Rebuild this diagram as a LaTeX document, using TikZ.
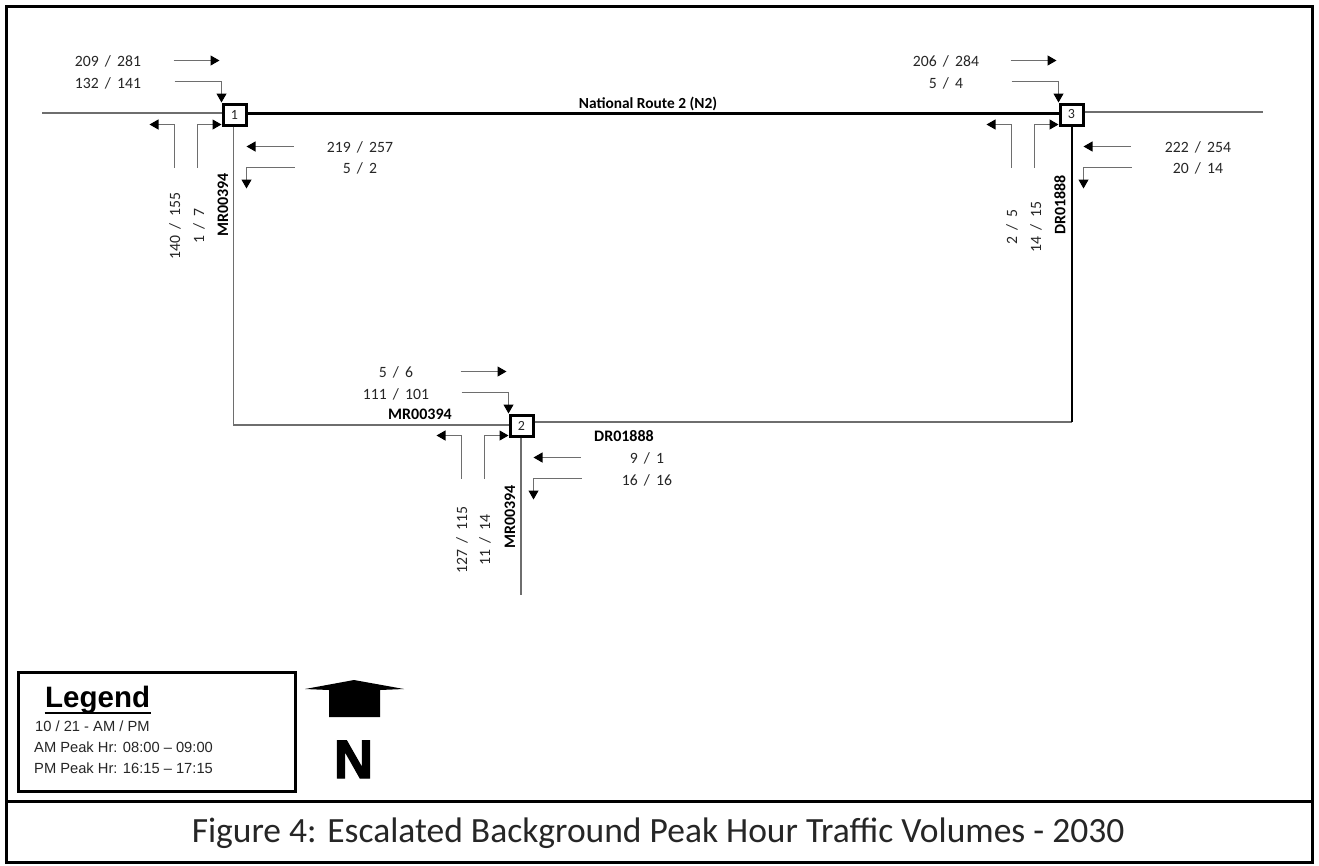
\documentclass[tikz,border=0pt]{standalone}
\usepackage{fontspec}
\setmainfont{Carlito}
\newfontfamily\arialf{Liberation Sans}
\newfontfamily\heavyf[FakeBold=2.5]{Liberation Sans Bold}
\usetikzlibrary{arrows.meta,calc}
\definecolor{thinline}{HTML}{6E6E6E}
\definecolor{txt}{HTML}{262626}
\tikzset{
  frame/.style={draw=black,line width=3pt},
  road/.style={draw=thinline,line width=1.2pt},
  mainroad/.style={draw=black,line width=2.2pt},
  flow/.style={draw=thinline,line width=1.1pt,-{Triangle[width=10pt,length=9pt,fill=black,color=black]}},
  junction/.style={draw=black,fill=white,line width=3pt,minimum width=23pt,minimum height=21pt,inner sep=0pt,font=\fontsize{14}{14}\selectfont,text=txt},
  vol/.style={inner sep=0pt,text=txt,font=\fontsize{15.7}{16}\selectfont},
  rvol/.style={vol,rotate=90},
  rname/.style={inner sep=0pt,text=black,font=\fontsize{16}{16}\selectfont\bfseries},
  rrname/.style={rname,rotate=90},
  legtext/.style={inner sep=0pt,anchor=west,text=txt,font=\arialf\fontsize{14.7}{15}\selectfont},
}
\newcommand{\vs}{\ \,/\ \,}
\begin{document}
\begin{tikzpicture}[x=1pt,y=-1pt]
\useasboundingbox (0,0) rectangle (1319,865);
\fill[white] (0,0) rectangle (1319,865);
% frames
\draw[frame] (6,6) rectangle (1312,862);
\draw[frame] (6,801) -- (1312,801);
% junctions
\node[junction] (j1) at (234.5,114.5) {1};
\node[junction] (j2) at (521.5,425.5) {2};
\node[junction] (j3) at (1071.5,114.5) {3};
\coordinate (w1) at (42,113);
\coordinate (e3) at (1263,112);
\coordinate (c1) at (233.5,425);
\coordinate (c3) at (1072,422);
\coordinate (s2) at (521,595);
% roads
\draw[road] (w1) -- (j1.west |- w1);
\draw[mainroad] (j1.east |- 0,113.5) -- (j3.west |- 0,113.5);
\draw[road] (j3.east |- e3) -- (e3);
\draw[road] (j1.south -| c1) -- (c1) -- (j2.west |- c1);
\draw[road] (j2.east |- c3) -- (c3);
\draw[mainroad,line width=1.8pt] (j3.south -| c3) -- (c3);
\draw[road] (j2.south -| s2) -- (s2);
% turning flows
\foreach \j in {j1,j2,j3}{
  \draw[flow] ($(\j)+(-61,-54)$) -- ($(\j)+(-15,-54)$);
  \draw[flow] ($(\j)+(-60,-33)$) -| ($(\j)+(-13,-12)$);
  \draw[flow] ($(\j)+(-60,53)$) |- ($(\j)+(-85,10)$);
  \draw[flow] ($(\j)+(-37,53)$) |- ($(\j)+(-13,10)$);
  \draw[flow] ($(\j)+(59,32)$) -- ($(\j)+(12,32)$);
  \draw[flow] ($(\j)+(60,53)$) -| ($(\j)+(12,74)$);
}
% volumes, junction 1
\node[vol] (a1) at (108,61) {209\vs 281};
\node[vol] (a2) at (108,83) {132\vs 141};
\node[vol] (a3) at (360,147) {219\vs 257};
\node[vol] (a4) at (360,168) {5\vs 2};
\node[rvol] (a5) at (175,226) {140\vs 155};
\node[rvol] (a6) at (199,226) {1\vs 7};
\node[rrname] (n1) at (223,205) {MR00394};
% volumes, junction 2
\node[vol] (b1) at (396,372) {5\vs 6};
\node[vol] (b2) at (396,394) {111\vs 101};
\node[rname] (n2) at (420,414) {MR00394};
\node[rname] (n3) at (624,436) {DR01888};
\node[vol] (b3) at (647,458) {9\vs 1};
\node[vol] (b4) at (647,480) {16\vs 16};
\node[rvol] (b5) at (462,540) {127\vs 115};
\node[rvol] (b6) at (485,540) {11\vs 14};
\node[rrname] (n4) at (510,517) {MR00394};
% volumes, junction 3
\node[vol] (c1t) at (946,61) {206\vs 284};
\node[vol] (c2t) at (946,83) {5\vs 4};
\node[vol] (c3t) at (1198,147) {222\vs 254};
\node[vol] (c4t) at (1198,168) {20\vs 14};
\node[rvol] (c5t) at (1012,227) {2\vs 5};
\node[rvol] (c6t) at (1036,227) {14\vs 15};
\node[rrname] (n5) at (1060,205) {DR01888};
\node[rname,font=\fontsize{15.4}{16}\selectfont\bfseries] (n6) at (648,104) {National Route 2 (N2)};
% legend
\draw[frame] (18,672) rectangle (295,791);
\node[inner sep=0pt,anchor=base west,text=black,font=\arialf\bfseries\fontsize{29.5}{30}\selectfont] (leg) at (45,707) {Legend};
\draw[black,line width=2.2pt] (44.5,713) -- (151,713);
\node[legtext] (l1) at (35,726) {10 / 21 - AM / PM};
\node[legtext] (l2) at (34,747) {AM Peak Hr: 08:00 – 09:00};
\node[legtext] (l3) at (34,768) {PM Peak Hr: 16:15 – 17:15};
% north arrow
\fill[black] (305,689) -- (354,680) -- (404,689) -- (380,690) -- (380,717) -- (329,717) -- (329,690) -- cycle;
\node[inner sep=0pt,anchor=base,text=black,font=\heavyf\fontsize{54}{54}\selectfont] (north) at (353.5,778) {N};
% title
\node[inner sep=0pt,text=txt,font=\fontsize{35.5}{36}\selectfont] (title) at (658,833) {Figure 4: Escalated Background Peak Hour Traffic Volumes - 2030};
\end{tikzpicture}
\end{document}
